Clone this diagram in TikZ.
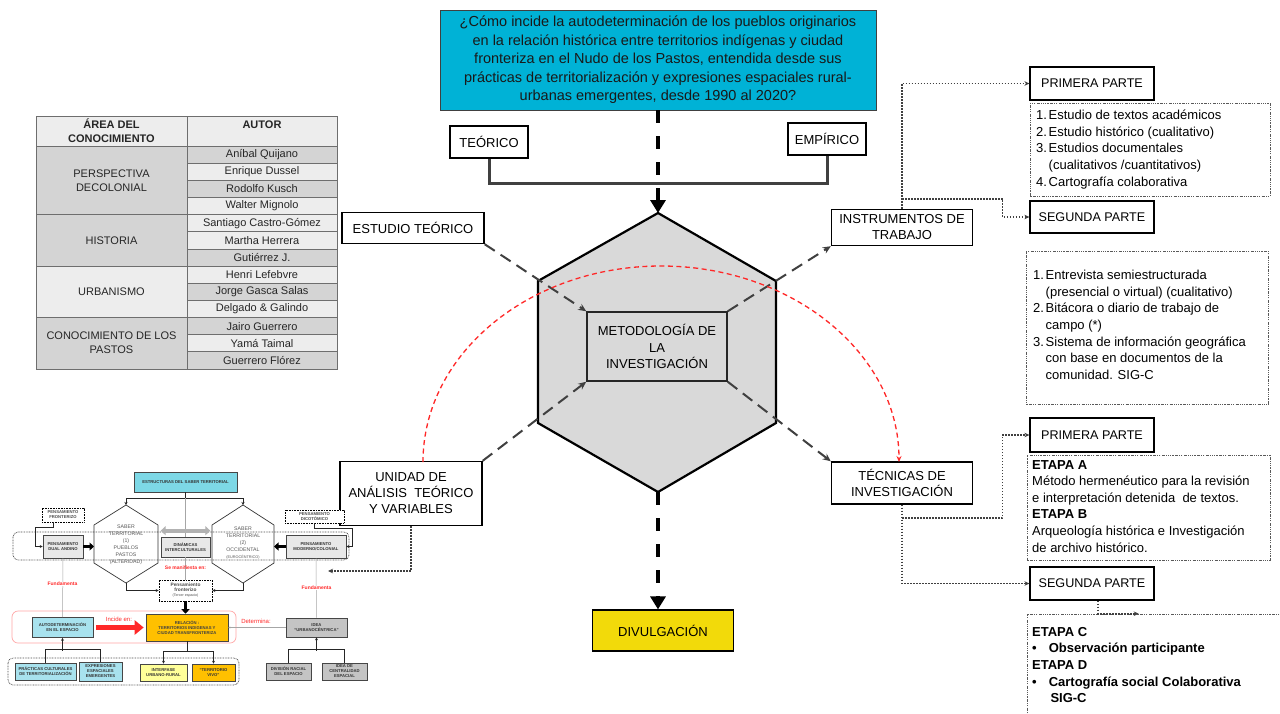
\documentclass[tikz,border=0pt]{standalone}
\usepackage{fontspec}
\setmainfont{Liberation Sans}
\usetikzlibrary{arrows.meta,calc}

\definecolor{qcyan}{RGB}{0,178,214}
\definecolor{divy}{RGB}{242,218,10}
\definecolor{hexg}{RGB}{217,217,217}
\definecolor{dk}{RGB}{64,64,64}
\definecolor{tdark}{RGB}{212,212,212}
\definecolor{tlight}{RGB}{237,237,237}
\definecolor{tline}{RGB}{110,110,110}
\definecolor{scyan}{RGB}{168,226,238}
\definecolor{stcyan}{RGB}{125,216,230}
\definecolor{sorange}{RGB}{255,192,0}
\definecolor{syellow}{RGB}{255,255,153}
\definecolor{sgray}{RGB}{196,196,196}
\definecolor{slgray}{RGB}{232,232,232}
\definecolor{sred}{RGB}{255,40,40}
\definecolor{htxt}{RGB}{90,90,90}

\newcommand\fsz[2]{\fontsize{#1}{#2}\selectfont}

\tikzset{
  mainbox/.style={draw=black, line width=1.4pt, fill=white, align=center, inner sep=0pt, font=\fsz{13}{16}},
  partbox/.style={draw=black, line width=1.2pt, fill=white, inner sep=0pt, minimum width=124pt, font=\fsz{12.6}{15}},
  listframe/.style={draw=gray!70!black, line width=0.6pt, dash pattern=on 1.6pt off 1.2pt on 0.4pt off 1.2pt, inner sep=0pt},
  listtext/.style={anchor=north west, align=left, inner sep=0pt, font=\fsz{13}{16.6}},
  dotcon/.style={draw=dk, line width=1.6pt, dash pattern=on 1.6pt off 1.4pt, -{Stealth[length=5pt,width=4.5pt]}},
  dashcon/.style={draw=dk, line width=2pt, dash pattern=on 12pt off 7pt, -{Stealth[length=8pt,width=7pt]}},
  bigdash/.style={draw=black, line width=4pt, dash pattern=on 13pt off 13pt, -{Triangle[length=13pt,width=15pt]}},
  tcell/.style={draw=tline, line width=0.7pt, inner sep=0pt, align=center, font=\fsz{11}{14}, text=black!85},
  sbox/.style={draw=gray!55!black, line width=0.6pt, inner sep=0pt, align=center, font=\fsz{4.2}{5}\bfseries, text=black!80},
  sdot/.style={draw=black, line width=0.7pt, dash pattern=on 0.8pt off 0.8pt, fill=white, inner sep=0pt, align=center, font=\fsz{4.2}{5}\bfseries, text=black!70},
  sline/.style={draw=black!85, line width=0.8pt},
  stip/.style={-{Stealth[length=3pt,width=3pt]}},
  sblack/.style={draw=black, line width=3.2pt, -{Triangle[length=4.5pt,width=8pt]}},
  sthin/.style={draw=gray!70, line width=0.5pt},
  redlbl/.style={text=sred, font=\fsz{5}{6}\bfseries, inner sep=0.5pt},
  hexlbl/.style={text=htxt, align=center, font=\fsz{5.2}{7}, inner sep=0pt},
  banddot/.style={draw=black!70, line width=0.7pt, dash pattern=on 0.8pt off 0.8pt}
}

\begin{document}
\begin{tikzpicture}[x=1pt,y=-1pt]
\useasboundingbox (0,0) rectangle (1280,713);
\fill[white] (0,0) rectangle (1280,713);

% ---------------- research question and approaches
\node[draw=dk, line width=0.8pt, fill=qcyan, minimum width=436pt, minimum height=100pt,
      align=center, inner sep=0pt, font=\fsz{14.5}{18.5}, text=black!90] (q) at (658,60)
  {¿Cómo incide la autodeterminación de los pueblos originarios\\
   en la relación histórica entre territorios indígenas y ciudad\\
   fronteriza en el Nudo de los Pastos, entendida desde sus\\
   prácticas de territorialización y expresiones espaciales rural-\\
   urbanas emergentes, desde 1990 al 2020?};

\node[mainbox, minimum width=78pt, minimum height=32pt] (teo) at (489,142) {TEÓRICO};
\node[mainbox, minimum width=78pt, minimum height=32pt] (emp) at (827,139) {EMPÍRICO};

% ---------------- central hexagon
\coordinate (hT) at (658,213);
\coordinate (hUR) at (776,281);
\coordinate (hLR) at (776,423);
\coordinate (hB) at (658,492);
\coordinate (hLL) at (538,423);
\coordinate (hUL) at (538,281);
\draw[line width=2.2pt, fill=hexg] (hT) -- (hUR) -- (hLR) -- (hB) -- (hLL) -- (hUL) -- cycle;

\draw[dk, line width=3pt] (teo.south) -- ++(0,25) -| (emp.south);
\draw[bigdash] (q.south) -- (hT);

\node[draw=black!85, line width=1.5pt, fill=hexg, minimum width=140pt, minimum height=69pt,
      align=center, inner sep=0pt, font=\fsz{13}{16.5}] (met) at (657,346.5)
  {METODOLOGÍA DE\\LA\\INVESTIGACIÓN};

% ---------------- surrounding boxes
\node[mainbox, minimum width=142pt, minimum height=31pt] (est) at (413,228) {ESTUDIO TEÓRICO};
\node[mainbox, minimum width=141pt, minimum height=36pt] (ins) at (902,227.5) {INSTRUMENTOS DE\\TRABAJO};
\node[mainbox, minimum width=142pt, minimum height=64pt] (uni) at (411,493.5) {UNIDAD DE\\ANÁLISIS\ \ TEÓRICO\\Y VARIABLES};
\node[mainbox, minimum width=141pt, minimum height=42pt] (tec) at (902,483) {TÉCNICAS DE\\INVESTIGACIÓN};
\node[mainbox, fill=divy, line width=1.2pt, minimum width=141pt, minimum height=41pt] (div) at (663,630.5) {DIVULGACIÓN};

\draw[dashcon] (est.south east) -- (met.north west);
\draw[dashcon] (met.north east) -- (ins.south west);
\draw[dashcon] (uni.north east) -- (met.south west);
\draw[dashcon] (met.south east) -- (tec.north west);
\draw[bigdash] (hB) -- (hB |- div.north);

% red arc from the analysis unit to the research techniques
\draw[sred, line width=1.3pt, dash pattern=on 5pt off 3.5pt, -{Stealth[length=6pt,width=5pt]}]
  (423,462) arc[start angle=180, end angle=0, x radius=238pt, y radius=196pt];

% ---------------- right column: work instruments
\node[partbox, minimum height=33pt] (p1) at (1092,83.5) {PRIMERA PARTE};
\node[listframe, minimum width=240pt, minimum height=93pt] (l1) at (1150,149.5) {};
\node[listtext] (l1t) at (1036,110)
  {\makebox[12.5pt][l]{1.}Estudio de textos académicos\\
   \makebox[12.5pt][l]{2.}Estudio histórico (cualitativo)\\
   \makebox[12.5pt][l]{3.}Estudios documentales\\
   \hspace*{12.5pt}(cualitativos /cuantitativos)\\
   \makebox[12.5pt][l]{4.}Cartografía colaborativa};
\node[partbox, minimum height=32pt] (s1) at (1092,217) {SEGUNDA PARTE};
\node[listframe, minimum width=242pt, minimum height=153pt] (l2) at (1147,327.5) {};
\node[listtext] (l2t) at (1033,270)
  {\makebox[12.5pt][l]{1.}Entrevista semiestructurada\\
   \hspace*{12.5pt}(presencial o virtual) (cualitativo)\\
   \makebox[12.5pt][l]{2.}Bitácora o diario de trabajo de\\
   \hspace*{12.5pt}campo (*)\\
   \makebox[12.5pt][l]{3.}Sistema de información geográfica\\
   \hspace*{12.5pt}con base en documentos de la\\
   \hspace*{12.5pt}comunidad. SIG-C};

\draw[dotcon] (ins.north) |- (p1.west);
\draw[dotcon] ($(ins.north)+(0,-10)$) -| ($(s1.west)+(-27,0)$) -- (s1.west);

% ---------------- right column: research techniques
\node[partbox, minimum height=34pt] (p2) at (1092,435) {PRIMERA PARTE};
\node[listframe, minimum width=243pt, minimum height=105pt] (e1) at (1148.5,507.5) {};
\node[listtext] (e1t) at (1032,460)
  {\textbf{ETAPA A}\\
   Método hermenéutico para la revisión\\
   e interpretación detenida\ \ de textos.\\
   \textbf{ETAPA B}\\
   Arqueología histórica e Investigación\\
   de archivo histórico.};
\node[partbox, minimum height=33pt] (s2) at (1092,583.5) {SEGUNDA PARTE};
\node[listframe, minimum width=266pt, minimum height=112pt] (e2) at (1160,670) {};
\node[listtext, font=\fsz{13}{16.6}\bfseries] (e2t) at (1032,627)
  {ETAPA C\\
   •\hspace{12pt}Observación participante\\
   ETAPA D\\
   •\hspace{12pt}Cartografía social Colaborativa\\
   \hspace*{18.3pt}SIG-C};

\draw[dotcon] (tec.south) |- (s2.west);
\draw[dotcon] ($(tec.south)+(0,13)$) -| ($(p2.west)+(-27,0)$) -- (p2.west);
\draw[dotcon] ($(s2.south)+(6,0)$) |- ($(e2.north west)+(112,0)$);

% ---------------- table of authors
\node[tcell, fill=tlight, minimum width=151pt, minimum height=30pt] (th1) at (111.5,131) {};
\node[tcell, fill=tlight, minimum width=150pt, minimum height=30pt] (th2) at (262,131) {};
\node[font=\fsz{11}{14}\bfseries, align=center, inner sep=0pt, text=black!85] (th1t) at (111.5,131) {ÁREA DEL\\CONOCIMIENTO};
\node[font=\fsz{11}{14}\bfseries, inner sep=0pt, text=black!85] (th2t) at (262,125) {AUTOR};

\foreach \i/\aut/\fc in {0/Aníbal Quijano/tdark, 1/Enrique Dussel/tlight, 2/Rodolfo Kusch/tdark,
    3/Walter Mignolo/tlight, 4/Santiago Castro-Gómez/tlight, 5/Martha Herrera/tlight,
    6/Gutiérrez J./tdark, 7/Henri Lefebvre/tlight, 8/Jorge Gasca Salas/tdark,
    9/Delgado \& Galindo/tlight, 10/Jairo Guerrero/tdark, 11/Yamá Taimal/tlight,
    12/Guerrero Flórez/tdark}{
  \node[tcell, fill=\fc, minimum width=150pt, minimum height=17.15pt] (au\i) at (262,{154.575+17.15*\i}) {\aut};
}
\node[tcell, fill=tdark, minimum width=151pt, minimum height=68.6pt] (ar1) at (111.5,180.3) {PERSPECTIVA\\DECOLONIAL};
\node[tcell, fill=tdark, minimum width=151pt, minimum height=51.45pt] (ar2) at (111.5,240.3) {HISTORIA};
\node[tcell, fill=tlight, minimum width=151pt, minimum height=51.45pt] (ar3) at (111.5,291.8) {URBANISMO};
\node[tcell, fill=tdark, minimum width=151pt, minimum height=51.45pt] (ar4) at (111.5,343.2) {CONOCIMIENTO DE LOS\\PASTOS};

% ---------------- territorial knowledge scheme
\draw[banddot, rounded corners=5pt] (13,532) rectangle (349,560);
\draw[red!35, line width=0.7pt, rounded corners=6pt] (12,611) rectangle (236,643);
\draw[banddot, rounded corners=5pt] (8,658) rectangle (239,685);

\node[sbox, fill=stcyan, minimum width=103pt, minimum height=20pt] (estr) at (185.5,482) {ESTRUCTURAS DEL SABER TERRITORIAL};

% two knowledge hexagons
\coordinate (h1T) at (126,505); \coordinate (h1UR) at (158,525); \coordinate (h1LR) at (158,563);
\coordinate (h1B) at (126,583); \coordinate (h1LL) at (94,563);  \coordinate (h1UL) at (94,525);
\draw[black!80, line width=0.7pt] (h1T) -- (h1UR) -- (h1LR) -- (h1B) -- (h1LL) -- (h1UL) -- cycle;
\coordinate (h2T) at (243,505); \coordinate (h2UR) at (274,525); \coordinate (h2LR) at (274,563);
\coordinate (h2B) at (243,583); \coordinate (h2LL) at (212,563); \coordinate (h2UL) at (212,525);
\draw[black!80, line width=0.7pt] (h2T) -- (h2UR) -- (h2LR) -- (h2B) -- (h2LL) -- (h2UL) -- cycle;
\node[hexlbl] (h1t) at (126,544.5) {SABER\\TERRITORIAL\\(1)\\PUEBLOS\\PASTOS\\(ALTERIDAD)};
\node[hexlbl] (h2t) at (243,543.5) {SABER\\TERRITORIAL\\(2)\\OCCIDENTAL\\{\fsz{3.8}{5}(EUROCÉNTRICO)}};

\draw[sline] (estr.south) -- ++(0,6);
\draw[sline, stip] ($(estr.south)+(0,6)$) -| (h1T);
\draw[sline, stip] ($(estr.south)+(0,6)$) -| (h2T);

\node[sbox, fill=slgray, minimum width=49pt, minimum height=20pt] (din) at (185.5,547) {DINÁMICAS\\INTERCULTURALES};
\node[sdot, minimum width=53pt, minimum height=21pt] (fr3) at (185.5,590.5)
  {{\fsz{4.8}{5.6}Pensamiento}\\{\fsz{4.8}{5.6}fronterizo}\\{\fsz{3.6}{4.6}\mdseries(Tercer espacio)}};
\draw[sthin] ($(estr.south)+(0,6)$) -- (din.north);
\draw[sthin] (din.south) -- (fr3.north);
\draw[gray!60, line width=4pt, {Triangle[length=5pt,width=9pt]}-{Triangle[length=5pt,width=9pt]}]
  ($(din.north west)+(0,-6)$) -- ($(din.north east)+(0,-6)$);
\node[redlbl] (manif) at (185.5,568) {Se manifiesta en:};

\draw[sline, stip] (h1B) |- (fr3.west);
\draw[sline, stip] (h2B) |- (fr3.east);

% left branch
\node[sdot, minimum width=42pt, minimum height=14pt] (frz) at (63,515) {PENSAMIENTO\\FRONTERIZO};
\node[sbox, fill=slgray, minimum width=40pt, minimum height=23pt] (dual) at (63,546.5) {PENSAMIENTO\\DUAL ANDINO};
\draw[sline, stip] ($(frz.south)+(-10,0)$) -- ++(0,5) -| ($(dual.west)+(-7,0)$) -- (dual.west);
\draw[sblack] (dual.east) -- (dual.east -| h1UL);

% right branch
\node[sdot, minimum width=59pt, minimum height=13pt] (dic) at (314.5,516.5) {PENSAMIENTO\\DICOTÓMICO};
\node[sbox, fill=slgray, minimum width=60pt, minimum height=23pt] (mod) at (316,546.5) {PENSAMIENTO\\MODERNO/COLONIAL};
\draw[sline, stip] (dic.south) -- ++(0,5) -| ($(mod.east)+(6,0)$) -- (mod.east);
\draw[sblack] (mod.west) -- (mod.west -| h2UR);

% relation row
\node[sbox, fill=scyan, minimum width=61pt, minimum height=20pt] (autod) at (62.5,627.5) {AUTODETERMINACIÓN\\EN EL ESPACIO};
\node[sbox, fill=sorange, minimum width=82pt, minimum height=27pt, text=black!75] (rel) at (187,627.5)
  {RELACIÓN :\\TERRITORIOS INDIGENAS Y\\CIUDAD TRANSFRONTERIZA};
\node[sbox, fill=sgray, minimum width=61pt, minimum height=19pt] (idea) at (316.5,627.5) {IDEA\\“URBANOCÉNTRICA”};
\draw[sblack] (fr3.south) -- (fr3.south |- rel.north);
\draw[sred, line width=5.5pt, -{Triangle[length=9pt,width=14pt]}] ($(autod.east)+(3,0)$) -- ($(rel.west)+(-2,0)$);
\node[redlbl, font=\fsz{6}{7}] (inc) at (119,619) {Incide en:};
\draw[sthin, -{Stealth[length=2pt,width=2pt]}] (idea.west) -- (rel.east);
\node[redlbl, font=\fsz{6}{7}] (detl) at (256,621.5) {Determina:};

\draw[sthin] (dual.south) -- (autod.north);
\node[redlbl, fill=white] (fun1) at (62.5,584) {Fundamenta};
\draw[sthin] (mod.south) -- (idea.north);
\node[redlbl, fill=white] (fun2) at (316.5,588) {Fundamenta};

% lower level
\node[sbox, fill=scyan, minimum width=61pt, minimum height=17pt] (prac) at (45.5,671.5) {PRÁCTICAS CULTURALES\\DE TERRITORIALIZACIÓN};
\node[sbox, fill=scyan, minimum width=43pt, minimum height=19pt] (expr) at (100.5,671.5) {EXPRESIONES\\ESPACIALES\\EMERGENTES};
\node[sbox, fill=syellow, minimum width=47pt, minimum height=17pt] (inter) at (163.5,672.5) {INTERFASE\\URBANO-RURAL};
\node[sbox, fill=sorange, minimum width=43pt, minimum height=17pt] (viv) at (213.5,672.5) {“TERRITORIO\\VIVO”};
\node[sbox, fill=sgray, minimum width=45pt, minimum height=17pt] (divr) at (288.5,671.5) {DIVISIÓN RACIAL\\DEL ESPACIO};
\node[sbox, fill=sgray, minimum width=45pt, minimum height=17pt] (cent) at (344.5,671.5) {IDEA DE\\CENTRALIDAD\\ESPACIAL};

\draw[sline] (prac.north) -- ++(0,-13) -| (expr.north);
\draw[sline, stip] ($(autod.south)+(0,13)$) -- (autod.south);
\draw[sline] (rel.south) -- ++(0,10);
\draw[sline, stip] ($(rel.south)+(0,10)$) -| (inter.north);
\draw[sline, stip] ($(rel.south)+(0,10)$) -| (viv.north);
\draw[sline] (divr.north) -- ++(0,-13) -| (cent.north);
\draw[sline, stip] ($(idea.south)+(0,13.5)$) -- (idea.south);

% link from the analysis unit to the scheme
\coordinate (uniend) at (328,571);
\draw[dotcon] (uni.south) |- (uniend);

\end{tikzpicture}
\end{document}
